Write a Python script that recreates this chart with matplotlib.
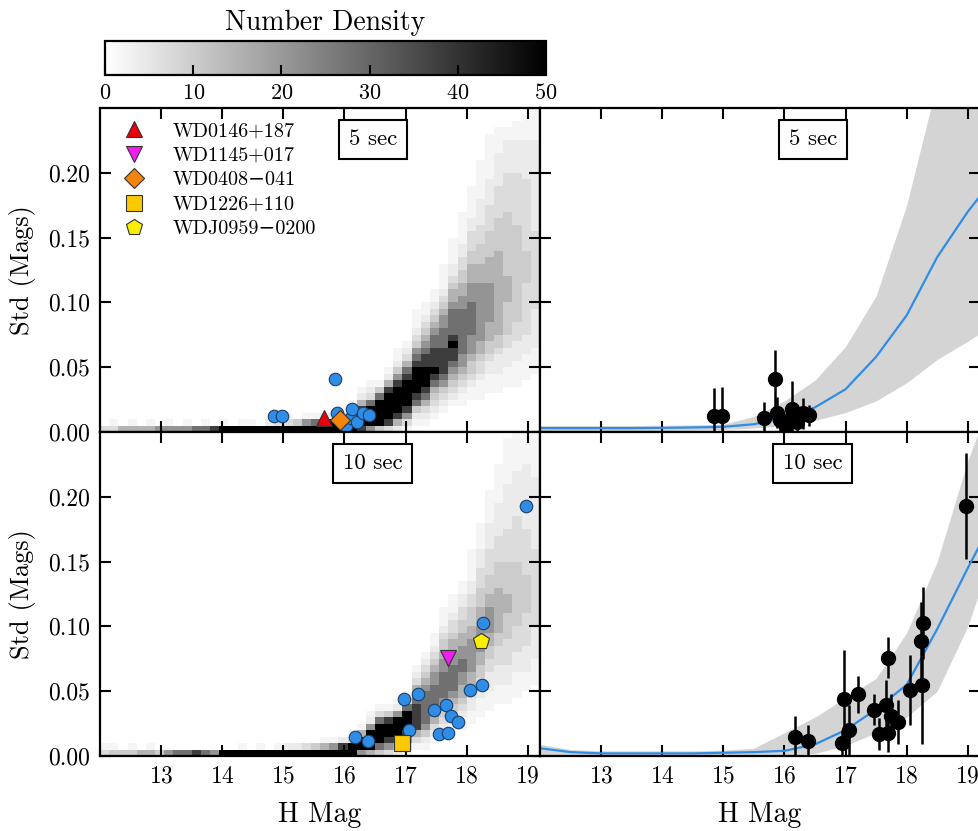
import numpy as np
import matplotlib
matplotlib.use("Agg")
import matplotlib.pyplot as plt

plt.rcParams['font.family'] = ['cmr10', 'DejaVu Serif']
plt.rcParams['axes.formatter.use_mathtext'] = True
plt.rcParams['mathtext.fontset'] = 'cm'

# ---- density maps: one string per 0.15 mag column, one char per 0.005 row (bottom first)
# char -> counts via LEVELS
LEVELS = [0, 2, 4, 7, 10, 15, 21, 28, 38, 50]
dens_5s = [
    "3", "31", "5", "51", "5", "51", "6", "61", "6", "61",
    "7", "71", "8", "91", "9", "91", "91", "9", "92", "93",
    "931", "94", "961", "971", "982", "992", "9941", "99521", "8998521", "69997321",
    "49999741", "3899998521", "2589999864211", "13689999875321", "0124789999876432111",
    "01235789998876543211", "0012345789888776543211", "00012346788887776654321111",
    "000012345678898777765543221111", "0000112345667777777665544332211111",
    "00000112344566677777666555443332211111", "000001112334556666666665554443332222111111",
    "0000001112234455566666655554444333322221111111", "00000011122234455555555555554444433333222221111",
    "00000001112223344444555544444444443333332222211", "000000011112223334444444444444443333333322222111",
    "0000000011112223333333344444333333333332222221111", "00000000011112222223333333333332222222222222211111",
]
dens_10s = [
    "31", "41", "4", "41", "5", "51", "4", "6", "7", "7",
    "8", "7", "6", "9", "9", "91", "9", "91", "9", "91",
    "92", "92", "93", "94", "951", "961", "982", "9931", "69951", "5999621",
    "47999731", "36899841", "258999621", "1368999731", "01358888765321",
    "0124677777654321", "0012356777766543211", "00012345677776654432111",
    "0000123456777766554332111", "000011234556677665544332211",
    "00000112234556666655444332211111", "000000111223445566665554443332221111",
    "00000001112223344556666554443333222211111", "000000001112223334455555554444333322222111111",
    "0000000011122233334444555444443333322222221111111", "00000000011112223333444444444433333332222222111111",
    "00000000001112222333334444443333333222222222211111", "00000000000111122222333333333333222222222221111111",
]
mag_edges = np.round(np.arange(49) * 0.15 + 12.0, 2)
std_edges = np.arange(51) * 0.005

# ---- 5 sec stars
mag5 = [14.84, 14.98, 15.84, 15.88, 16.02, 16.10, 16.13, 16.20, 16.30, 16.40]
std5 = [0.012, 0.012, 0.041, 0.015, 0.005, 0.011, 0.0175, 0.008, 0.0145, 0.013]
err5 = [0.022, 0.023, 0.022, 0.012, 0.006, 0.010, 0.022, 0.010, 0.012, 0.008]
# ---- 10 sec stars
mag10 = [16.17, 16.38, 16.97, 17.05, 17.20, 17.46, 17.54, 17.66, 17.69, 17.74, 17.86, 18.05, 18.25, 18.26, 18.97]
std10 = [0.015, 0.0117, 0.0436, 0.020, 0.0475, 0.0358, 0.017, 0.039, 0.018, 0.0305, 0.0263, 0.051, 0.0545, 0.1025, 0.193]
err10 = [0.016, 0.012, 0.038, 0.019, 0.014, 0.012, 0.012, 0.020, 0.015, 0.017, 0.017, 0.027, 0.045, 0.028, 0.041]

# ---- named white dwarfs
wd_names = ["WD0146+187", "WD1145+017", "WD0408\u2212041", "WD1226+110", "WDJ0959\u22120200"]
wd_panel = [5, 10, 5, 10, 10]
wd_mag = [15.66, 17.69, 15.92, 16.95, 18.23]
wd_std = [0.011, 0.076, 0.009, 0.0101, 0.0887]
wd_err = [0.012, 0.016, 0.010, 0.010, 0.030]
wd_marker = ["^", "v", "D", "s", "p"]
wd_color = ["#e8000b", "#f01cf0", "#f5840c", "#fcc800", "#f8f000"]

# ---- median curve and band (per 0.5 mag)
curve_mag = [12.0, 12.5, 13.0, 13.5, 14.0, 14.5, 15.0, 15.5, 16.0, 16.5, 17.0, 17.5, 18.0, 18.5, 19.0, 19.5]
c5_mid = [0.003, 0.003, 0.003, 0.003, 0.0032, 0.0035, 0.004, 0.006, 0.011, 0.019, 0.033, 0.058, 0.090, 0.135, 0.170, 0.200]
c5_lo = [0.001, 0.001, 0.001, 0.001, 0.0012, 0.0015, 0.002, 0.003, 0.005, 0.009, 0.015, 0.024, 0.038, 0.056, 0.070, 0.085]
c5_hi = [0.005, 0.005, 0.005, 0.005, 0.0052, 0.0055, 0.006, 0.012, 0.024, 0.040, 0.066, 0.105, 0.175, 0.270, 0.330, 0.380]
c10_mid = [0.006, 0.003, 0.002, 0.002, 0.002, 0.002, 0.0025, 0.003, 0.004, 0.009, 0.020, 0.036, 0.055, 0.098, 0.145, 0.190]
c10_lo = [0.001, 0.0005, 0.0005, 0.0005, 0.0005, 0.0005, 0.0007, 0.001, 0.0005, 0.002, 0.008, 0.018, 0.030, 0.050, 0.100, 0.170]
c10_hi = [0.009, 0.005, 0.004, 0.004, 0.004, 0.004, 0.0045, 0.006, 0.018, 0.030, 0.045, 0.060, 0.095, 0.150, 0.228, 0.290]

xticks = [13, 14, 15, 16, 17, 18, 19]
yticks = [0.0, 0.05, 0.10, 0.15, 0.20]
blue = "#2f8de6"


def to_grid(cols):
    g = np.zeros((len(std_edges) - 1, len(cols)))
    for i, s in enumerate(cols):
        for j, ch in enumerate(s):
            g[j, i] = LEVELS[int(ch)]
    return g


fig = plt.figure(figsize=(9.79, 8.31), dpi=100)
W, H = 979.0, 831.0
ax_tl = fig.add_axes([100 / W, 1 - 432 / H, 440 / W, 324 / H])
ax_tr = fig.add_axes([540 / W, 1 - 432 / H, 440 / W, 324 / H])
ax_bl = fig.add_axes([100 / W, 1 - 756 / H, 440 / W, 324 / H])
ax_br = fig.add_axes([540 / W, 1 - 756 / H, 440 / W, 324 / H])
cax = fig.add_axes([105 / W, 1 - 75 / H, 441 / W, 34 / H])

mesh = None
for ax, dens, bm, bs, pan in [(ax_tl, dens_5s, mag5, std5, 5), (ax_bl, dens_10s, mag10, std10, 10)]:
    mesh = ax.pcolormesh(mag_edges, std_edges, to_grid(dens), cmap="gray_r", vmin=0, vmax=50)
    ax.plot(bm, bs, "o", color=blue, mec="#1a3f6a", mew=0.8, ms=9, zorder=3)
    for k in range(len(wd_names)):
        if wd_panel[k] == pan:
            ax.plot(wd_mag[k], wd_std[k], wd_marker[k], color=wd_color[k], mec="#333333", mew=0.8,
                    ms=12 if wd_marker[k] != "D" else 10, zorder=4)

handles = []
for k in range(len(wd_names)):
    h, = ax_tl.plot([], [], wd_marker[k], color=wd_color[k], mec="#333333", mew=0.8,
                    ms=12 if wd_marker[k] != "D" else 10, label=wd_names[k])
    handles.append(h)
ax_tl.legend(handles=handles, loc="upper left", frameon=False, fontsize=14.5, numpoints=1,
             handletextpad=0.9, labelspacing=0.32, borderaxespad=0.3, bbox_to_anchor=(0.0, 1.0))

for ax, mid, lo, hi, m, s, e, pan in [(ax_tr, c5_mid, c5_lo, c5_hi, mag5, std5, err5, 5),
                                      (ax_br, c10_mid, c10_lo, c10_hi, mag10, std10, err10, 10)]:
    ax.fill_between(curve_mag, lo, hi, color="#d4d4d4", lw=0, zorder=1)
    ax.plot(curve_mag, mid, color=blue, lw=1.6, zorder=2)
    mm = list(m) + [wd_mag[k] for k in range(5) if wd_panel[k] == pan]
    ss = list(s) + [wd_std[k] for k in range(5) if wd_panel[k] == pan]
    ee = list(e) + [wd_err[k] for k in range(5) if wd_panel[k] == pan]
    ax.errorbar(mm, ss, yerr=ee, fmt="o", color="k", ms=10, elinewidth=1.8, capsize=0, zorder=3)

for ax, lab in [(ax_tl, "5 sec"), (ax_tr, "5 sec"), (ax_bl, "10 sec"), (ax_br, "10 sec")]:
    ax.set_xlim(12.0, 19.2)
    ax.set_ylim(0, 0.25)
    ax.set_xticks(xticks)
    ax.set_yticks(yticks)
    ax.tick_params(direction="in", top=True, right=True, length=8, width=1.5, labelsize=17, pad=7)
    for sp in ax.spines.values():
        sp.set_linewidth(1.6)
    ax.text(0.62, 0.903, lab, transform=ax.transAxes, ha="center", va="center", fontsize=16.5,
            bbox=dict(boxstyle="square,pad=0.42", fc="white", ec="black", lw=1.5), zorder=6)

for ax in (ax_tl, ax_bl):
    ax.set_yticklabels(["%.2f" % v for v in yticks])
    ax.set_ylabel("Std (Mags)", fontsize=19, labelpad=9)
for ax in (ax_tr, ax_br):
    ax.set_yticklabels([])
for ax in (ax_tl, ax_tr):
    ax.set_xticklabels([])
for ax in (ax_bl, ax_br):
    ax.set_xlabel("H Mag", fontsize=20, labelpad=10)

cb = fig.colorbar(mesh, cax=cax, orientation="horizontal")
cb.set_ticks([0, 10, 20, 30, 40, 50])
cax.tick_params(direction="in", length=7, width=1.5, labelsize=16, pad=6)
cb.outline.set_linewidth(1.6)
cax.set_title("Number Density", fontsize=20, pad=8)

fig.savefig("out.png", dpi=100)
